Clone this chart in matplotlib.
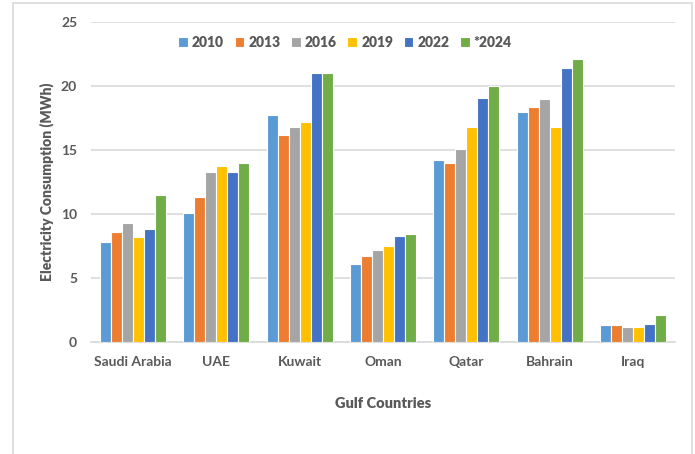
import numpy as np
import matplotlib
matplotlib.use('Agg')
import matplotlib.pyplot as plt
from matplotlib.patches import Rectangle

countries = ['Saudi Arabia', 'UAE', 'Kuwait', 'Oman', 'Qatar', 'Bahrain', 'Iraq']
years = ['2010', '2013', '2016', '2019', '2022', '*2024']
colors = ['#5b9bd5', '#ed7d31', '#a5a5a5', '#ffc000', '#4472c4', '#70ad47']

v2010 = [7.8, 10.1, 17.7, 6.1, 14.2, 18.0, 1.3]
v2013 = [8.6, 11.3, 16.2, 6.7, 14.0, 18.35, 1.3]
v2016 = [9.3, 13.3, 16.8, 7.2, 15.1, 18.95, 1.2]
v2019 = [8.2, 13.75, 17.2, 7.5, 16.8, 16.8, 1.2]
v2022 = [8.8, 13.3, 21.0, 8.3, 19.05, 21.4, 1.4]
v2024 = [11.5, 14.0, 21.0, 8.4, 20.0, 22.1, 2.1]
series = [v2010, v2013, v2016, v2019, v2022, v2024]

text_col = '#595959'
grid_col = '#d9d9d9'
plt.rcParams['font.family'] = ['Lato', 'DejaVu Sans']

fig = plt.figure(figsize=(6.95, 4.54), dpi=100)
ax = fig.add_axes([91 / 695, 1 - 342 / 454, 584 / 695, 320 / 454])

x = np.arange(len(countries))
w = 0.132
for i, vals in enumerate(series):
    ax.bar(x + (i - 2.5) * w, vals, width=w, color=colors[i],
           edgecolor='white', linewidth=0.8, label=years[i], zorder=3)

ax.set_xlim(-0.5, len(countries) - 0.5)
ax.set_ylim(0, 25)
ax.set_yticks([0, 5, 10, 15, 20, 25])
ax.yaxis.grid(True, color=grid_col, linewidth=1.2, zorder=0)
ax.set_xticks(x)
ax.set_xticklabels(countries)
ax.tick_params(axis='both', length=0, labelsize=10, colors=text_col, pad=10)
for lab in ax.get_xticklabels() + ax.get_yticklabels():
    lab.set_fontweight('bold')
for s in ['top', 'right', 'left']:
    ax.spines[s].set_visible(False)
ax.spines['bottom'].set_color(grid_col)
ax.spines['bottom'].set_linewidth(1.2)

ax.set_xlabel('Gulf Countries', fontsize=10.5, fontweight='heavy', color=text_col, labelpad=21)
ax.set_ylabel('Electricity Consumption (MWh)', fontsize=10, fontweight='heavy',
              color=text_col, labelpad=5)

leg = ax.legend(loc='upper center', bbox_to_anchor=(0.435, 0.995), ncol=6, frameon=False,
                handlelength=0.7, handleheight=0.7, handletextpad=0.3, columnspacing=0.75,
                prop={'weight': 'heavy', 'size': 10})
for t in leg.get_texts():
    t.set_color(text_col)

# outer chart frame
fig.add_artist(Rectangle((13 / 695, -0.1), 679 / 695, 1.1 - 3 / 454, transform=fig.transFigure,
                         fill=False, edgecolor=grid_col, linewidth=1.2))

fig.savefig('out.png', dpi=100)
